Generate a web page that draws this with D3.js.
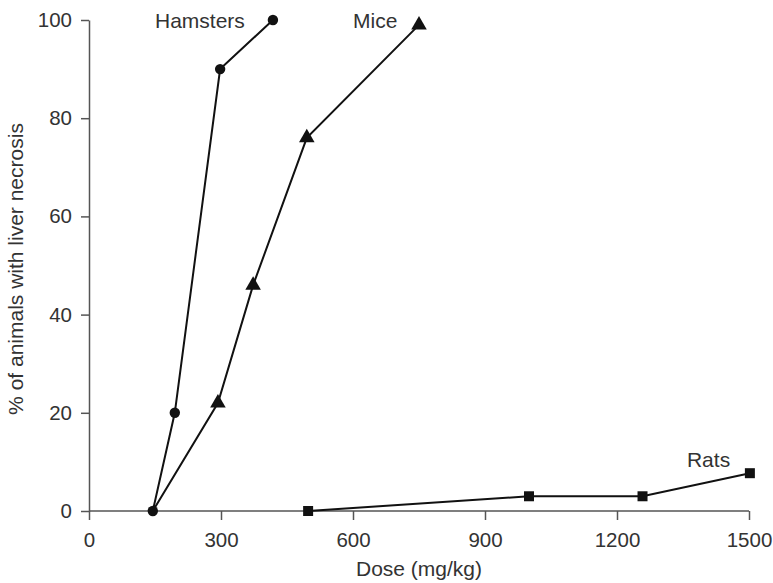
<!DOCTYPE html>
<html><head><meta charset="utf-8">
<script src="https://cdn.jsdelivr.net/npm/d3@7"></script>
<style>body{margin:0;background:#fff}svg{display:block}</style>
</head><body>
<script>
const xTicks = [0, 300, 600, 900, 1200, 1500];
const yTicks = [0, 20, 40, 60, 80, 100];
const hamstersDose = [145, 195, 298, 418];
const hamstersPct = [0, 20, 90, 100];
const miceDose = [145, 293, 373, 495, 750];
const micePct = [0, 22, 46, 76, 99];
const ratsDose = [498, 1000, 1258, 1502];
const ratsPct = [0, 3, 3, 7.7];
const seriesNames = ["Hamsters", "Mice", "Rats"];

const W = 773, H = 583;
const svg = d3.select("body").append("svg").attr("width", W).attr("height", H);
const x = d3.scaleLinear().domain([0, 1500]).range([89, 749]);
const y = d3.scaleLinear().domain([0, 100]).range([511, 20]);
const axCol = "#555", txtCol = "#333", font = "'Liberation Sans', Arial, sans-serif";

const xa = svg.append("g").attr("transform", "translate(0,511)")
  .call(d3.axisBottom(x).tickValues(xTicks).tickFormat(d3.format("d")).tickSize(9).tickPadding(12).tickSizeOuter(0));
const ya = svg.append("g").attr("transform", "translate(89,0)")
  .call(d3.axisLeft(y).tickValues(yTicks).tickFormat(d3.format("d")).tickSize(8).tickPadding(9).tickSizeOuter(0));
[xa, ya].forEach(g => {
  g.attr("font-size", null).attr("font-family", null);
  g.select(".domain").attr("stroke", axCol).attr("stroke-width", 1.5);
  g.selectAll(".tick line").attr("stroke", axCol).attr("stroke-width", 1.5);
  g.selectAll(".tick text").attr("fill", txtCol).attr("font-family", font).attr("font-size", 20.5);
});
xa.select(".domain").attr("d", `M${x(0)},0H${x(1500)}`);

svg.append("text").attr("x", 419).attr("y", 576).attr("text-anchor", "middle")
  .attr("fill", txtCol).attr("font-family", font).attr("font-size", 21).text("Dose (mg/kg)");
svg.append("text").attr("transform", "translate(23,269) rotate(-90)").attr("text-anchor", "middle")
  .attr("fill", txtCol).attr("font-family", font).attr("font-size", 21).text("% of animals with liver necrosis");

const line = d3.line().x(d => x(d[0])).y(d => y(d[1]));
const series = [
  {name: seriesNames[1], pts: d3.zip(miceDose, micePct), sym: d3.symbolTriangle, size: 105, skipFirst: true},
  {name: seriesNames[2], pts: d3.zip(ratsDose, ratsPct), sym: d3.symbolSquare, size: 100},
  {name: seriesNames[0], pts: d3.zip(hamstersDose, hamstersPct), sym: d3.symbolCircle, size: 85}
];
series.forEach(s => {
  svg.append("path").attr("d", line(s.pts)).attr("fill", "none").attr("stroke", "#111").attr("stroke-width", 2);
  svg.selectAll(null).data(s.skipFirst ? s.pts.slice(1) : s.pts).enter().append("path")
    .attr("d", d3.symbol().type(s.sym).size(s.size))
    .attr("transform", d => `translate(${x(d[0])},${y(d[1])})`)
    .attr("fill", "#111");
});
const labels = [
  {t: seriesNames[0], xv: 150, yv: 98.4},
  {t: seriesNames[1], xv: 600, yv: 98.4},
  {t: seriesNames[2], xv: 1359, yv: 9}
];
svg.selectAll(null).data(labels).enter().append("text")
  .attr("x", d => x(d.xv)).attr("y", d => y(d.yv))
  .attr("fill", txtCol).attr("font-family", font).attr("font-size", 21).text(d => d.t);
</script>
</body></html>
